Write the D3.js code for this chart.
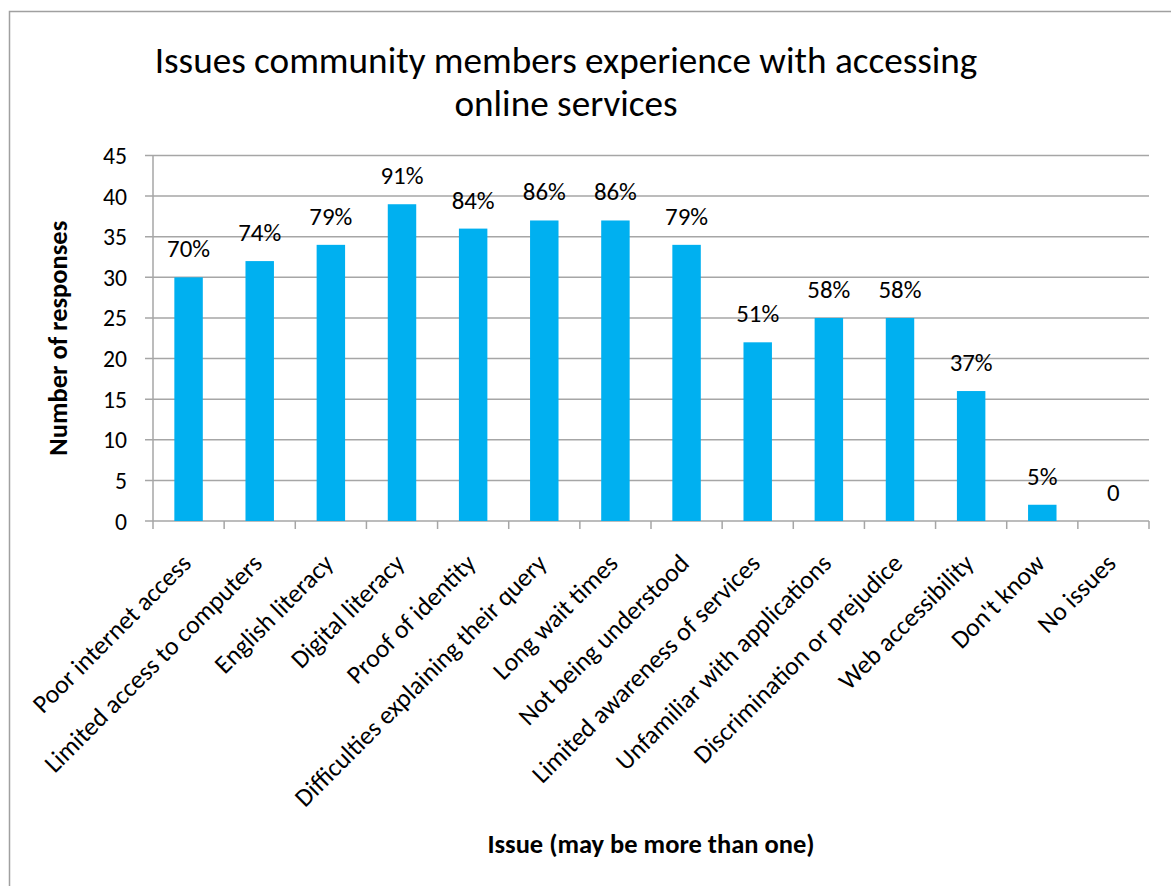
<!DOCTYPE html>
<html>
<head>
<meta charset="utf-8">
<script src="https://cdn.jsdelivr.net/npm/d3@7/dist/d3.min.js"></script>
<style>
  html, body { margin: 0; padding: 0; background: #fff; }
  svg { display: block; }
  text { font-family: Carlito, Calibri, Lato, "Open Sans", sans-serif; fill: #000; }
</style>
</head>
<body>
<svg id="chart" width="1171" height="886"></svg>
<script>
// Survey responses: how many community members reported each issue (n = 43)
const categories = [
  "Poor internet access",
  "Limited access to computers",
  "English literacy",
  "Digital literacy",
  "Proof of identity",
  "Difficulties explaining their query",
  "Long wait times",
  "Not being understood",
  "Limited awareness of services",
  "Unfamiliar with applications",
  "Discrimination or prejudice",
  "Web accessibility",
  "Don't know",
  "No issues"
];
const responses = [30, 32, 34, 39, 36, 37, 37, 34, 22, 25, 25, 16, 2, 0];
const valueLabels = ["70%", "74%", "79%", "91%", "84%", "86%", "86%", "79%", "51%", "58%", "58%", "37%", "5%", "0"];
const yTicks = [0, 5, 10, 15, 20, 25, 30, 35, 40, 45];

const titleLines = ["Issues community members experience with accessing", "online services"];
const yTitle = "Number of responses";
const xTitle = "Issue (may be more than one)";

const svg = d3.select("#chart");
const gridColor = "#a6a6a6";
const barColor = "#00b0f0";

// Pick a font size so that a sample string spans the wanted width
function fitSize(sample, width, weight) {
  const t = svg.append("text")
    .style("font-size", "100px")
    .style("font-weight", weight || "normal")
    .text(sample);
  const w = t.node().getComputedTextLength();
  t.remove();
  return 100 * width / w;
}
const titleSize = fitSize(titleLines[0], 823);
const tickSize = fitSize("45", 24);
const valueSize = fitSize("70%", 43);
const catSize = fitSize("Discrimination or prejudice", 283);
const axisTitleSize = fitSize(yTitle, 235, "bold");

// chart area frame
svg.append("rect")
  .attr("x", 9.5).attr("y", 11.5)
  .attr("width", 1200).attr("height", 900)
  .attr("fill", "none").attr("stroke", "#a0a0a0").attr("stroke-width", 1.5);

const plot = { left: 153, right: 1149, top: 155.5, bottom: 521 };

const x = d3.scaleBand()
  .domain(categories)
  .range([plot.left, plot.right])
  .paddingInner(0.6)
  .paddingOuter(0.3);

const y = d3.scaleLinear()
  .domain([0, 45])
  .range([plot.bottom, plot.top]);

// horizontal gridlines with short tick stubs left of the axis
svg.append("g")
  .selectAll("line")
  .data(yTicks)
  .join("line")
  .attr("x1", plot.left - 8).attr("x2", plot.right)
  .attr("y1", d => y(d)).attr("y2", d => y(d))
  .attr("stroke", gridColor).attr("stroke-width", 1.5);

// y tick labels
svg.append("g")
  .selectAll("text")
  .data(yTicks)
  .join("text")
  .attr("x", plot.left - 26)
  .attr("y", d => y(d))
  .attr("dy", "0.36em")
  .attr("text-anchor", "end")
  .style("font-size", tickSize + "px")
  .text(d => d);

// vertical axis line
svg.append("line")
  .attr("x1", plot.left).attr("x2", plot.left)
  .attr("y1", plot.top).attr("y2", plot.bottom)
  .attr("stroke", gridColor).attr("stroke-width", 1.5);

// category boundary ticks below the baseline
const step = x.step();
const boundaries = d3.range(categories.length + 1).map(i => plot.left + i * step);
svg.append("g")
  .selectAll("line")
  .data(boundaries)
  .join("line")
  .attr("x1", d => d).attr("x2", d => d)
  .attr("y1", plot.bottom).attr("y2", plot.bottom + 8)
  .attr("stroke", gridColor).attr("stroke-width", 1.5);

// bars
svg.append("g")
  .selectAll("rect")
  .data(categories)
  .join("rect")
  .attr("x", d => x(d))
  .attr("width", x.bandwidth())
  .attr("y", (d, i) => y(responses[i]))
  .attr("height", (d, i) => y(0) - y(responses[i]))
  .attr("fill", barColor);

// value labels above bars
svg.append("g")
  .selectAll("text")
  .data(categories)
  .join("text")
  .attr("x", d => x(d) + x.bandwidth() / 2)
  .attr("y", (d, i) => y(responses[i]) - 20)
  .attr("text-anchor", "middle")
  .style("font-size", valueSize + "px")
  .text((d, i) => valueLabels[i]);

// rotated category labels
svg.append("g")
  .selectAll("text")
  .data(categories)
  .join("text")
  .attr("transform", d => `translate(${x(d) + x.bandwidth() / 2 + 4},${plot.bottom + 44}) rotate(-45)`)
  .attr("text-anchor", "end")
  .style("font-size", catSize + "px")
  .text(d => d);

// y axis title
svg.append("text")
  .attr("transform", `translate(67,${(plot.top + plot.bottom) / 2}) rotate(-90)`)
  .attr("text-anchor", "middle")
  .style("font-size", axisTitleSize + "px")
  .style("font-weight", "bold")
  .text(yTitle);

// x axis title
svg.append("text")
  .attr("x", (plot.left + plot.right) / 2)
  .attr("y", 853)
  .attr("text-anchor", "middle")
  .style("font-size", axisTitleSize + "px")
  .style("font-weight", "bold")
  .text(xTitle);

// chart title
svg.append("g")
  .selectAll("text")
  .data(titleLines)
  .join("text")
  .attr("x", 566)
  .attr("y", (d, i) => 73 + i * 43)
  .attr("text-anchor", "middle")
  .style("font-size", titleSize + "px")
  .text(d => d);
</script>
</body>
</html>
